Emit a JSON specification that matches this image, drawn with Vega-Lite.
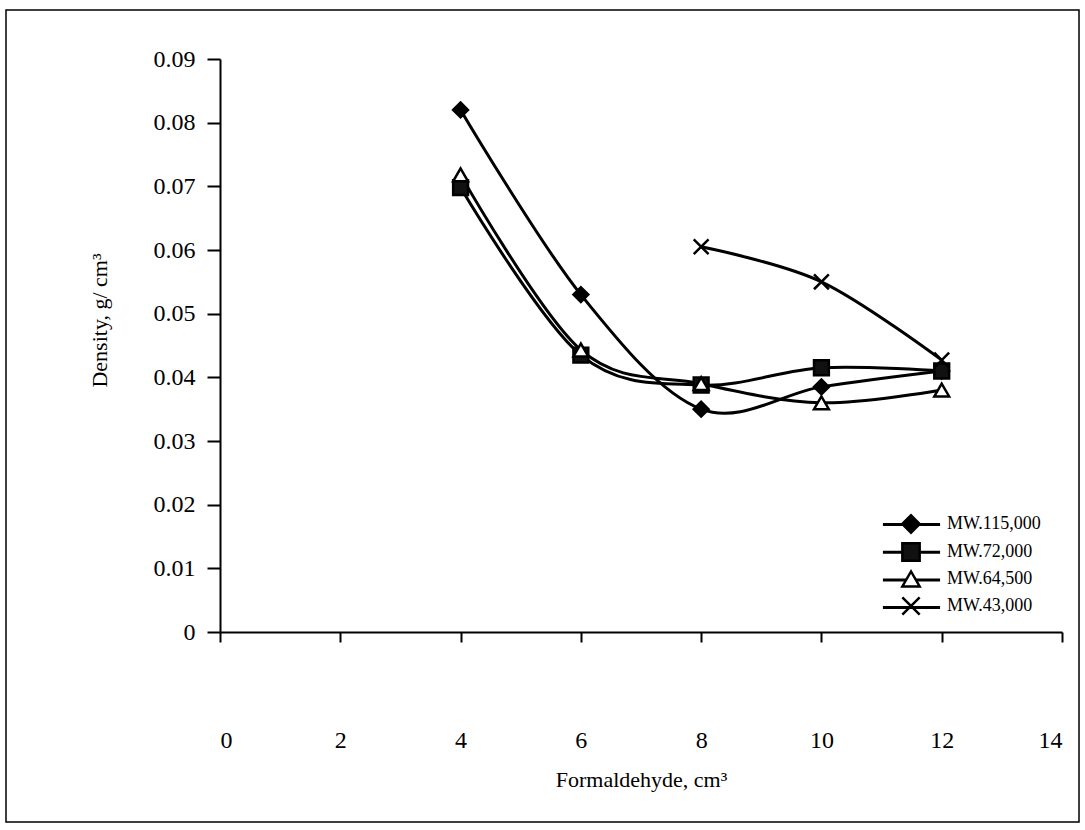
{
  "$schema": "https://vega.github.io/schema/vega-lite/v6.json",
  "autosize": "none",
  "width": 1073,
  "height": 812,
  "padding": {"left": 6, "top": 10, "right": 6, "bottom": 8},
  "background": "white",
  "config": {
    "view": {"stroke": "black", "strokeWidth": 1.5, "fill": "white"},
    "font": "Liberation Serif",
    "axis": {"grid": false, "domainColor": "black", "tickColor": "black", "labelColor": "black", "titleColor": "black", "labelFont": "Liberation Serif", "titleFont": "Liberation Serif", "titleFontWeight": "normal", "domainWidth": 2, "tickWidth": 2},
    "legend": {"labelFont": "Liberation Serif", "labelColor": "black"}
  },
  "data": {
    "values": [
      {"series": "MW.115,000", "formaldehyde": 4, "density": 0.082},
      {"series": "MW.115,000", "formaldehyde": 6, "density": 0.053},
      {"series": "MW.115,000", "formaldehyde": 8, "density": 0.035},
      {"series": "MW.115,000", "formaldehyde": 10, "density": 0.0385},
      {"series": "MW.115,000", "formaldehyde": 12, "density": 0.041},
      {"series": "MW.72,000", "formaldehyde": 4, "density": 0.0698},
      {"series": "MW.72,000", "formaldehyde": 6, "density": 0.0435},
      {"series": "MW.72,000", "formaldehyde": 8, "density": 0.0388},
      {"series": "MW.72,000", "formaldehyde": 10, "density": 0.0415},
      {"series": "MW.72,000", "formaldehyde": 12, "density": 0.041},
      {"series": "MW.64,500", "formaldehyde": 4, "density": 0.0718},
      {"series": "MW.64,500", "formaldehyde": 6, "density": 0.0443},
      {"series": "MW.64,500", "formaldehyde": 8, "density": 0.039},
      {"series": "MW.64,500", "formaldehyde": 10, "density": 0.036},
      {"series": "MW.64,500", "formaldehyde": 12, "density": 0.038},
      {"series": "MW.43,000", "formaldehyde": 8, "density": 0.0605},
      {"series": "MW.43,000", "formaldehyde": 10, "density": 0.055},
      {"series": "MW.43,000", "formaldehyde": 12, "density": 0.0427}
    ]
  },
  "encoding": {
    "x": {
      "field": "formaldehyde", "type": "quantitative",
      "scale": {"domain": [0, 14], "range": [214, 1056], "nice": false, "zero": false},
      "axis": {
        "title": "Formaldehyde, cm³", "offset": -190, "values": [0, 2, 4, 6, 8, 10, 12, 14],
        "tickSize": 10, "labelPadding": 86, "labelFontSize": 24, "titleFontSize": 22, "titlePadding": 17
      }
    },
    "y": {
      "field": "density", "type": "quantitative",
      "scale": {"domain": [0, 0.09], "range": [622, 49], "nice": false, "zero": false},
      "axis": {
        "title": "Density, g/ cm³", "offset": -214, "titleY": 310,
        "values": [0, 0.01, 0.02, 0.03, 0.04, 0.05, 0.06, 0.07, 0.08, 0.09],
        "labelExpr": "datum.value == 0 ? '0' : format(datum.value, '.2f')",
        "tickSize": 13, "labelPadding": 12, "labelFontSize": 24, "titleFontSize": 22, "titlePadding": 42
      }
    }
  },
  "layer": [
    {
      "mark": {"type": "line", "interpolate": "cardinal", "strokeWidth": 3},
      "encoding": {
        "stroke": {
          "field": "series", "type": "nominal",
          "sort": ["MW.115,000", "MW.72,000", "MW.64,500", "MW.43,000"],
          "scale": {"range": ["black", "black", "black", "black"]},
          "legend": {
            "title": null, "orient": "none", "legendX": 895, "legendY": 504,
            "symbolType": "M-3.3,0H3.3", "symbolSize": 300, "symbolStrokeWidth": 3,
            "labelFontSize": 18, "labelOffset": 26, "labelExpr": "'\u00a0'", "rowPadding": 7.7
          }
        }
      }
    },
    {
      "mark": {"type": "point", "filled": true, "stroke": "black", "strokeWidth": 2.5, "opacity": 1, "size": 220},
      "encoding": {
        "shape": {
          "field": "series", "type": "nominal",
          "scale": {
            "domain": ["MW.115,000", "MW.72,000", "MW.64,500", "MW.43,000"],
            "range": ["diamond", "square", "triangle-up", "M-1,-1L1,1M-1,1L1,-1"]
          },
          "legend": {
            "title": null, "orient": "none", "legendX": 895, "legendY": 504,
            "symbolSize": 300, "symbolStrokeColor": "black", "symbolStrokeWidth": 2.5, "symbolOpacity": 1,
            "labelFontSize": 18, "labelOffset": 26, "rowPadding": 0,
            "encoding": {"symbols": {"stroke": {"value": "black"}, "strokeWidth": {"value": 2.5}}}
          }
        },
        "fill": {
          "field": "series", "type": "nominal",
          "scale": {
            "domain": ["MW.115,000", "MW.72,000", "MW.64,500", "MW.43,000"],
            "range": ["black", "#111111", "white", "transparent"]
          },
          "legend": {
            "title": null, "orient": "none", "legendX": 895, "legendY": 504,
            "symbolSize": 300, "symbolStrokeColor": "black", "symbolStrokeWidth": 2.5, "symbolOpacity": 1,
            "labelFontSize": 18, "labelOffset": 26, "rowPadding": 0,
            "encoding": {"symbols": {"stroke": {"value": "black"}, "strokeWidth": {"value": 2.5}}}
          }
        }
      }
    }
  ]
}
